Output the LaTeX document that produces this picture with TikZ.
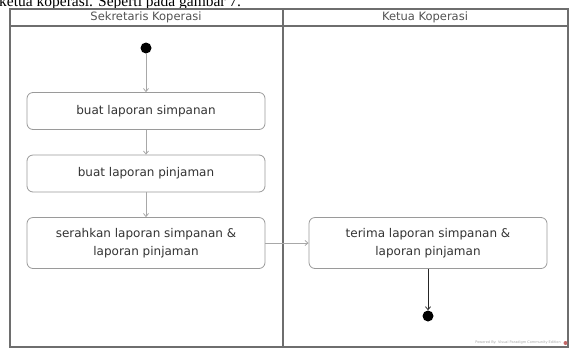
\documentclass[tikz,border=0pt]{standalone}
\usepackage{fontspec}
\setmainfont{DejaVu Sans}
\newfontfamily\bodyserif{Liberation Serif}
\usetikzlibrary{arrows.meta}
\definecolor{laneline}{HTML}{6E6E6E}
\definecolor{boxline}{HTML}{9A9A9A}
\definecolor{flowline}{HTML}{A8A8A8}
\definecolor{inktext}{HTML}{333333}
\begin{document}
\begin{tikzpicture}[x=1pt,y=-1pt,
  lane/.style={draw=laneline, line width=1.4pt},
  hdr/.style={font=\fontsize{11.5}{12}\selectfont, text=inktext!85, inner sep=0pt},
  act/.style={draw=boxline, line width=0.8pt, rounded corners=6pt, fill=white,
    minimum width=238pt, align=center, text=inktext,
    font=\fontsize{12}{18}\selectfont},
  dot/.style={circle, fill=black, minimum size=11pt, inner sep=0pt},
  flow/.style={draw=flowline, line width=0.8pt, -{Straight Barb[length=3pt,width=5pt]}},
  endflow/.style={draw=black!85, line width=0.8pt, -{Straight Barb[length=3pt,width=5pt]}}
]
\useasboundingbox (0,0) rectangle (569,349);
\clip (0,0) rectangle (569,349);

% running text of the page above the figure
\node[anchor=base west, inner sep=0pt, font=\bodyserif\fontsize{15.5}{16}\selectfont]
  (caption) at (-1,6.5) {ketua koperasi. Seperti pada gambar 7.};

% swimlane frame
\draw[lane] (10,9) rectangle (568,347);
\draw[lane] (10,26) -- (568,26);
\draw[lane] (283,9) -- (283,347);
\node[hdr] (laneA) at (146,17.5) {Sekretaris Koperasi};
\node[hdr] (laneB) at (425,17.5) {Ketua Koperasi};

% activities
\node[dot] (start) at (146,48) {};
\node[act, minimum height=37pt] (a1) at (146,111) {buat laporan simpanan};
\node[act, minimum height=37pt] (a2) at (146,173.5) {buat laporan pinjaman};
\node[act, minimum height=51pt] (a3) at (146,243) {serahkan laporan simpanan \&\\laporan pinjaman};
\node[act, minimum height=51pt] (a4) at (428,243) {terima laporan simpanan \&\\laporan pinjaman};
\node[dot] (stop) at (428,316) {};

% control flow
\draw[flow] (start) -- (a1);
\draw[flow] (a1) -- (a2);
\draw[flow] (a2) -- (a3);
\draw[flow] (a3) -- (a4);
\draw[endflow] (a4) -- (stop);

% tool watermark
\node[anchor=east, inner sep=0pt, text=black!35, font=\fontsize{3.5}{4}\selectfont]
  (mark) at (561,343) {Powered By: Visual Paradigm Community Edition};
\fill[red!60!black!60] (565.5,343) circle (2pt);
\end{tikzpicture}
\end{document}
